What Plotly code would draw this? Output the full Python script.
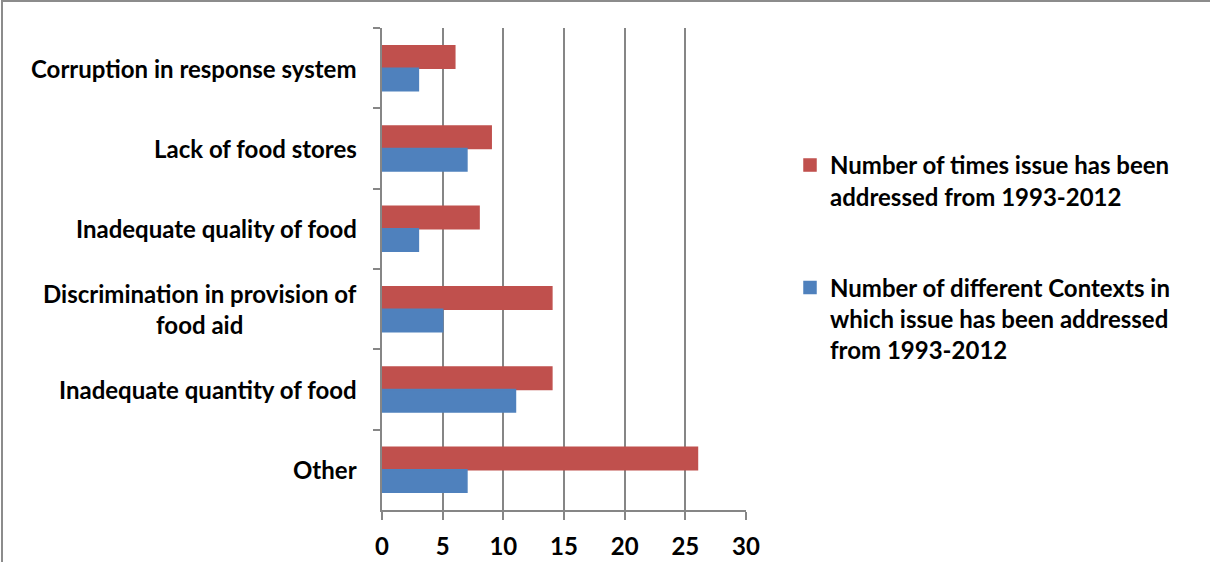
import plotly.graph_objects as go

# Categories listed top to bottom
categories = [
    "Corruption in response system",
    "Lack of food stores",
    "Inadequate quality of food",
    "Discrimination in provision of<br>food aid",
    "Inadequate quantity of food",
    "Other",
]
times_addressed = [6, 9, 8, 14, 14, 26]
contexts_addressed = [3, 7, 3, 5, 11, 7]

series_names = [
    "Number of times issue has been<br>addressed from 1993-2012",
    "Number of different Contexts in<br>which issue has been addressed<br>from 1993-2012",
]
x_ticks = [0, 5, 10, 15, 20, 25, 30]

RED = "#C0504D"
BLUE = "#4F81BD"
GRID = "#868686"
FONT = "Lato"
FS = 24

fig = go.Figure()
fig.add_trace(go.Bar(
    y=categories, x=times_addressed, orientation="h",
    name=series_names[0], marker=dict(color=RED, line=dict(color=RED, width=1.5)),
    legendgroup="a",
))
fig.add_trace(go.Bar(
    y=categories, x=contexts_addressed, orientation="h",
    name=series_names[1], marker=dict(color=BLUE, line=dict(color=BLUE, width=1.5)),
    legendgroup="b",
))

W, H = 1210, 562
ml, mr, mt, mb = 382, 464, 28, 52
pw, ph = W - ml - mr, H - mt - mb


def px_x(p):
    return (p - ml) / pw


def px_y(p):
    return 1 - (p - mt) / ph


# category labels, centred lines, right edge near the axis
annotations = []
for c in categories:
    annotations.append(dict(
        x=px_x(359), xref="paper", y=c, yref="y",
        text=c, showarrow=False, xanchor="right", yanchor="middle",
        align="center", font=dict(family=FONT, size=FS, color="#000000", weight="bold"),
    ))

fig.update_layout(
    width=W, height=H,
    margin=dict(l=ml, r=mr, t=mt, b=mb, autoexpand=False),
    paper_bgcolor="white", plot_bgcolor="white",
    font=dict(family=FONT, size=FS, color="#000000", weight="bold"),
    barmode="group", bargap=0.44, bargroupgap=0,
    showlegend=True,
    legend=dict(
        x=px_x(790), xanchor="left", y=px_y(143), yanchor="top",
        font=dict(family=FONT, size=FS, color="#000000", weight="bold"),
        valign="top", tracegroupgap=57, traceorder="grouped",
        bgcolor="rgba(0,0,0,0)",
    ),
    xaxis=dict(
        range=[0, 30], tickvals=x_ticks, showgrid=True, gridcolor=GRID, gridwidth=2,
        showline=True, linecolor=GRID, linewidth=2,
        ticks="outside", ticklen=8, tickwidth=2, tickcolor=GRID,
        ticklabelstandoff=6, automargin=False,
        tickfont=dict(family=FONT, size=FS, color="#000000", weight="bold"),
        zeroline=False, fixedrange=True,
    ),
    yaxis=dict(
        categoryorder="array", categoryarray=categories, autorange="reversed",
        showticklabels=False, tickson="boundaries", automargin=False,
        ticks="outside", ticklen=7, tickwidth=2, tickcolor=GRID,
        showline=True, linecolor=GRID, linewidth=2, showgrid=False,
        zeroline=False, fixedrange=True,
    ),
    annotations=annotations,
    shapes=[dict(
        type="rect", xref="paper", yref="paper",
        x0=px_x(2), x1=px_x(1300), y0=px_y(700), y1=px_y(1),
        line=dict(color="#8C8C8C", width=2), fillcolor="rgba(0,0,0,0)", layer="below",
    )],
)

fig.write_html("out.html")
